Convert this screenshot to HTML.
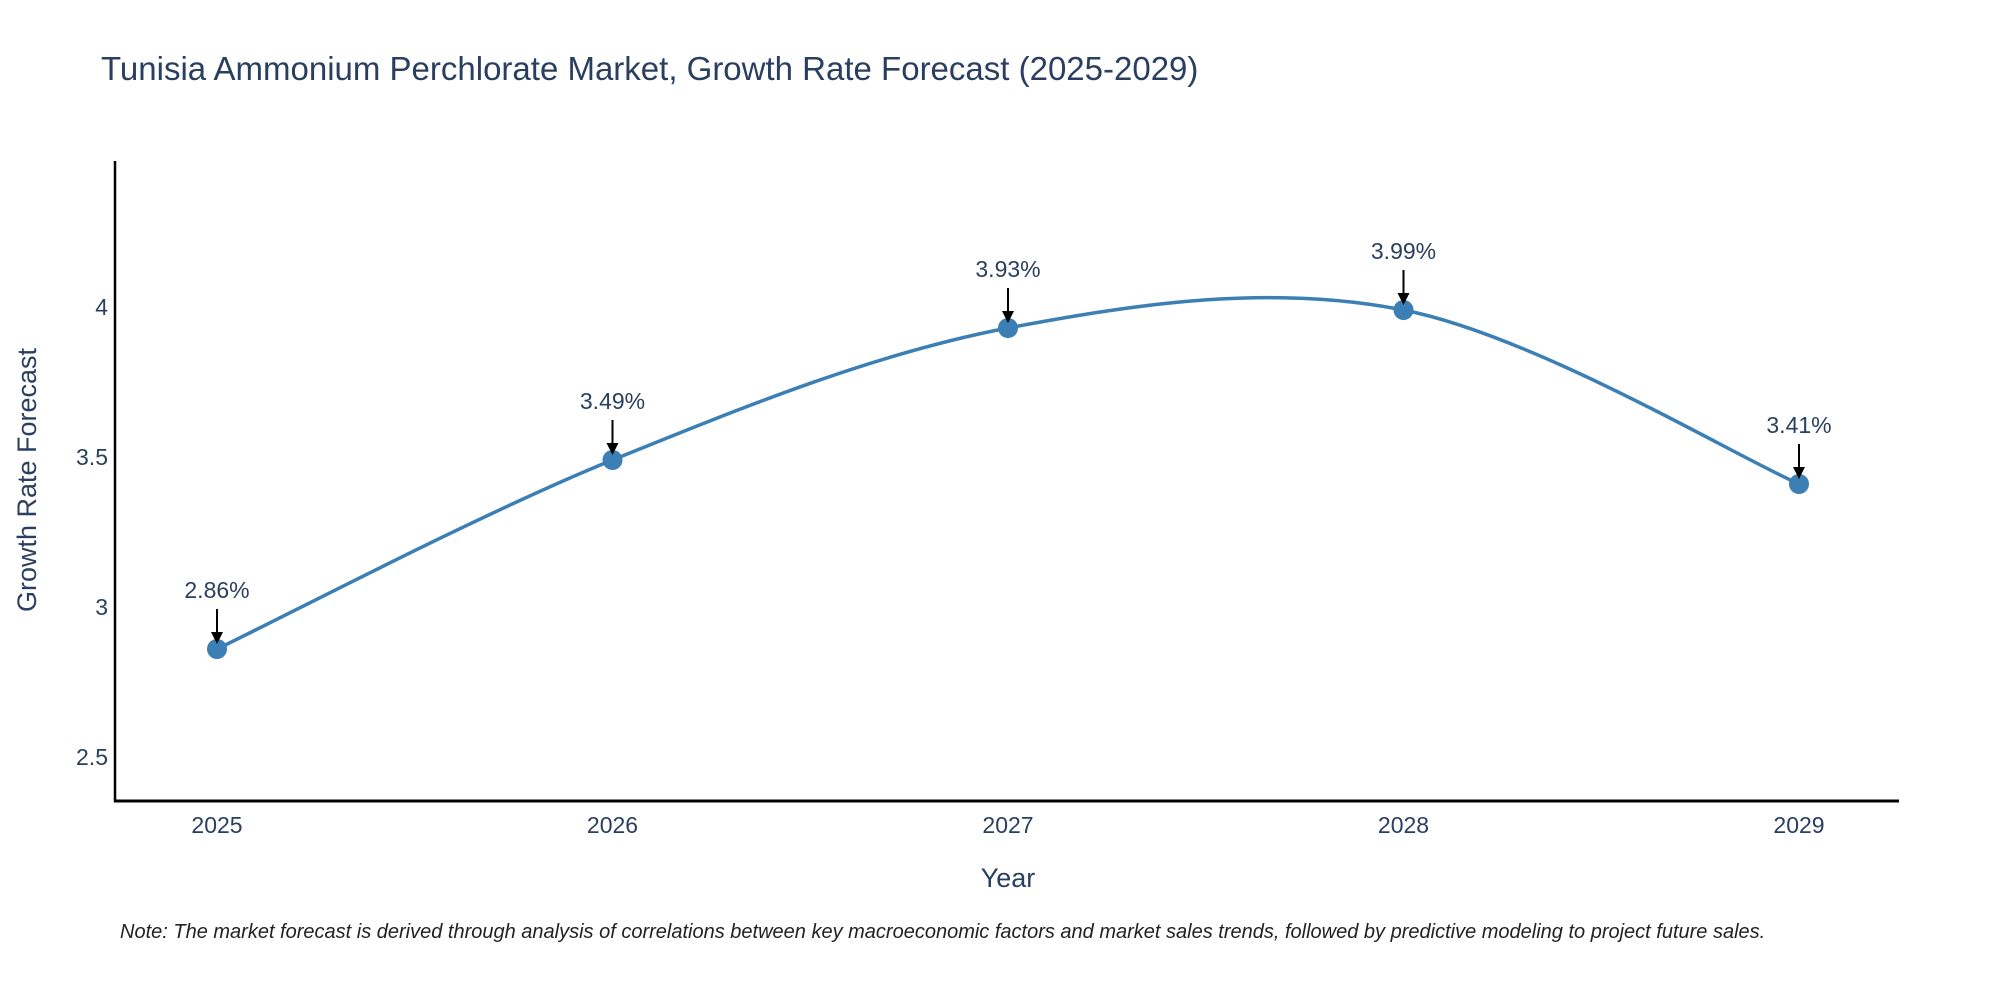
<!DOCTYPE html>
<html><head><meta charset="utf-8"><style>
html,body{margin:0;padding:0;background:#fff;}
svg{display:block;font-family:"Liberation Sans",sans-serif;}
</style></head><body>
<svg id="chart" width="2000" height="1000" viewBox="0 0 2000 1000" xmlns="http://www.w3.org/2000/svg">
<rect width="2000" height="1000" fill="#fff"/>
<text x="101" y="80" font-size="33" fill="#2a3f5f">Tunisia Ammonium Perchlorate Market, Growth Rate Forecast (2025-2029)</text>
<text transform="translate(36,480) rotate(-90)" text-anchor="middle" font-size="27" fill="#2a3f5f">Growth Rate Forecast</text>
<text x="1008" y="887" text-anchor="middle" font-size="27" fill="#2a3f5f">Year</text>
<text x="120" y="938" font-size="20" font-style="italic" fill="#222">Note: The market forecast is derived through analysis of correlations between key macroeconomic factors and market sales trends, followed by predictive modeling to project future sales.</text>
<g id="ticks"></g>
<g id="series"></g>
<line x1="115" y1="161" x2="115" y2="802" stroke="#000" stroke-width="2.5"/>
<line x1="114" y1="801" x2="1899" y2="801" stroke="#000" stroke-width="3"/>
</svg>
<script>
const years = [2025, 2026, 2027, 2028, 2029];
const growth = [2.86, 3.49, 3.93, 3.99, 3.41];
const labels = ["2.86%", "3.49%", "3.93%", "3.99%", "3.41%"];
const yTicks = [2.5, 3, 3.5, 4];
const yTickLabels = ["2.5", "3", "3.5", "4"];

const NS = "http://www.w3.org/2000/svg";
function xScale(v){ return 217 + (v - 2025) * 395.5; }
function yScale(v){ return 307 + (4 - v) * 300; }
function mk(tag, attrs, parent){
  const e = document.createElementNS(NS, tag);
  for (const k in attrs) e.setAttribute(k, attrs[k]);
  parent.appendChild(e);
  return e;
}
const ticksG = document.getElementById('ticks');
const seriesG = document.getElementById('series');

yTicks.forEach((t, i) => {
  const el = mk('text', {x: 108, y: yScale(t) + 8, 'text-anchor': 'end', 'font-size': 23, fill: '#2a3f5f'}, ticksG);
  el.textContent = yTickLabels[i];
  
  
});
years.forEach(y => {
  const el = mk('text', {x: xScale(y), y: 833, 'text-anchor': 'middle', 'font-size': 23, fill: '#2a3f5f'}, ticksG);
  el.textContent = String(y);
  
  
});

// smooth spline (Catmull-Rom)
const pts = years.map((y, i) => [xScale(y), yScale(growth[i])]);
let d = `M${pts[0][0]},${pts[0][1]}`;
const tension = 1/6;
for (let i = 0; i < pts.length - 1; i++) {
  const p0 = pts[i-1] || pts[i], p1 = pts[i], p2 = pts[i+1], p3 = pts[i+2] || pts[i+1];
  const c1 = [p1[0] + (p2[0]-p0[0])*tension, p1[1] + (p2[1]-p0[1])*tension];
  const c2 = [p2[0] - (p3[0]-p1[0])*tension, p2[1] - (p3[1]-p1[1])*tension];
  d += ` C${c1[0]},${c1[1]} ${c2[0]},${c2[1]} ${p2[0]},${p2[1]}`;
}
const line = mk('path', {d: d, fill: 'none', stroke: '#3b7fb4', 'stroke-width': 3.5}, seriesG);



pts.forEach((p, i) => {
  const c = mk('circle', {cx: p[0], cy: p[1], r: 10, fill: '#3b7fb4'}, seriesG);
  
  
  const a = mk('line', {x1: p[0], y1: p[1] - 40, x2: p[0], y2: p[1] - 14, stroke: '#000', 'stroke-width': 2}, seriesG);
  
  
  const h = mk('path', {d: `M${p[0]-6},${p[1]-17} L${p[0]+6},${p[1]-17} L${p[0]},${p[1]-5} Z`, fill: '#000'}, seriesG);
  
  
  const t = mk('text', {x: p[0], y: p[1] - 51, 'text-anchor': 'middle', 'font-size': 23, fill: '#2a3f5f'}, seriesG);
  t.textContent = labels[i];
  
  
});
</script>
</body></html>
